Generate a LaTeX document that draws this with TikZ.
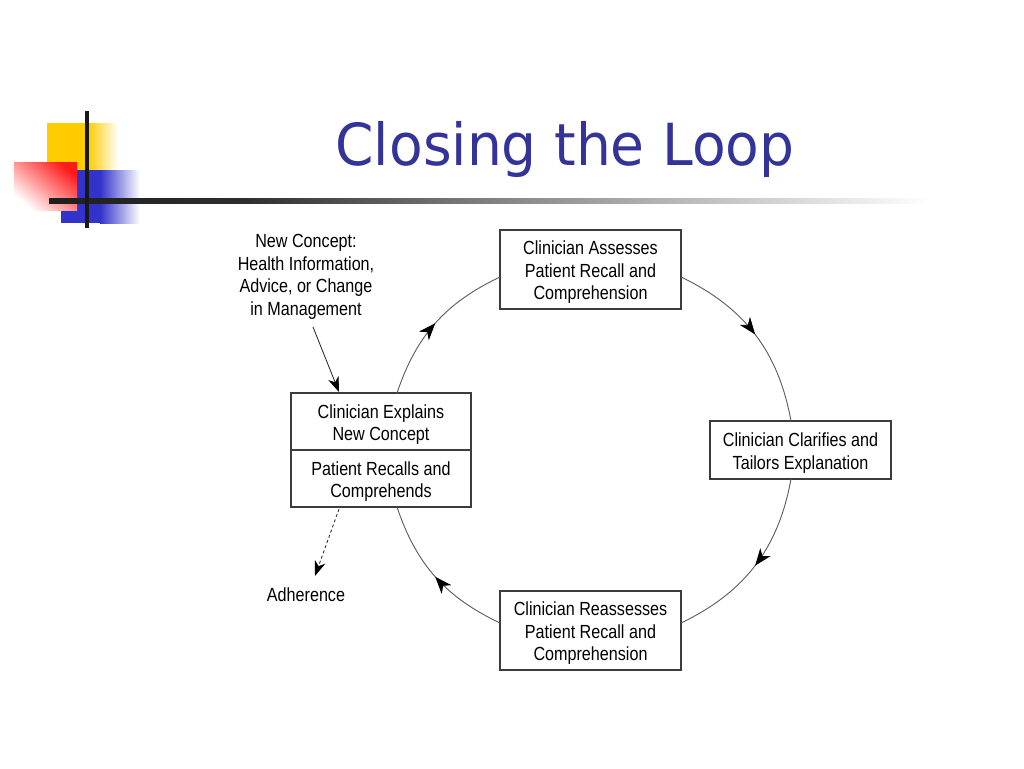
\documentclass[tikz,border=0pt]{standalone}
\usepackage{fontspec}
\setmainfont{Liberation Sans}
\newfontfamily\narrowfont[FakeStretch=0.85]{Liberation Sans}
\newfontfamily\titlefont[FakeStretch=0.95]{DejaVu Sans}
\usetikzlibrary{arrows.meta,decorations.markings,calc}
\definecolor{titleblue}{HTML}{333399}
\definecolor{logoyellow}{HTML}{FFCC00}
\definecolor{logoblue}{HTML}{3333CC}
\definecolor{logored}{HTML}{FF1A1A}
\definecolor{boxgray}{HTML}{3C3C3C}
\definecolor{arcgray}{HTML}{5A5A5A}
\newcommand{\toprl}{\rule{0pt}{19.5pt}}
\pgfdeclarehorizontalshading{lineshade}{100bp}{color(0bp)=(black!88); color(25bp)=(black!88); color(36bp)=(black!82); color(52bp)=(black!45); color(75bp)=(white); color(100bp)=(white)}
\tikzset{
  box/.style={draw=boxgray, line width=1.3pt, minimum width=181pt, align=center, font=\narrowfont\fontsize{19}{22.5}\selectfont, inner sep=2pt},
  lbl/.style={align=center, font=\narrowfont\fontsize{19}{22.5}\selectfont, inner sep=0pt},
  loop/.style={draw=arcgray, line width=0.9pt, postaction={decorate},
    decoration={markings, mark=at position 0.5 with {\arrow[black]{Stealth[length=17pt,width=13pt,inset=5pt]}}}},
  feed/.style={draw=black!80, line width=0.9pt, -{Stealth[length=15pt,width=11pt,inset=4.5pt,black]}},
}
\begin{document}
\begin{tikzpicture}[x=1pt,y=-1pt]
\useasboundingbox (0,0) rectangle (1024,768);
\fill[white] (0,0) rectangle (1024,768);
% logo
\fill[logoyellow] (47,123) rectangle (88,190);
\shade[left color=logoyellow, right color=white] (88,123) rectangle (118,190);
\fill[logoblue] (61,170) rectangle (100,223);
\shade[left color=logoblue, right color=white] (100,170) rectangle (140,223);
\shade[shading=axis, top color=logored, bottom color=white, shading angle=-40] (14,162) rectangle (77,210);
\shade[shading=lineshade] (49,198.5) rectangle (930,203.5);
\fill[black!90] (85,111) rectangle (89,228);
% title
\node[font=\titlefont\fontsize{58}{60}\selectfont, text=titleblue, inner sep=0pt] (title) at (565,149) {Closing the Loop};
% boxes
\node[box, minimum height=79pt] (assess) at (590.5,269.5) {\toprl Clinician Assesses\\Patient Recall and\\Comprehension};
\node[box, minimum height=58pt] (clarify) at (800.5,450) {\toprl Clinician Clarifies and\\Tailors Explanation};
\node[box, minimum height=79pt] (reassess) at (590.5,630.5) {\toprl Clinician Reassesses\\Patient Recall and\\Comprehension};
\node[box, minimum height=57pt, minimum width=180pt] (explain) at (381,421.5) {\toprl Clinician Explains\\New Concept};
\node[box, minimum height=57pt, minimum width=180pt] (recalls) at (381,478.5) {\toprl Patient Recalls and\\Comprehends};
% labels
\node[lbl] (concept) at (306,277) {New Concept:\\Health Information,\\Advice, or Change\\in Management};
\node[lbl] (adherence) at (306,595) {Adherence};
% connection points
\coordinate (pExplainTop) at (397,393);
\coordinate (pAssessW) at (500,277);
\coordinate (pAssessE) at (681,277);
\coordinate (pClarifyN) at (791,421);
\coordinate (pClarifyS) at (791,479);
\coordinate (pReassessE) at (681,623);
\coordinate (pReassessW) at (500,623);
\coordinate (pRecallsBot) at (397,507);
\coordinate (pConceptEnd) at (313,327);
\coordinate (pExplainIn) at (339,392);
\coordinate (pRecallsOut) at (339,509);
\coordinate (pAdhIn) at (315,576);
% loop arcs
\draw[loop] (pExplainTop) to[bend left=23] (pAssessW);
\draw[loop] (pAssessE) to[bend left=27] (pClarifyN);
\draw[loop] (pClarifyS) to[bend left=27] (pReassessE);
\draw[loop] (pReassessW) to[bend left=23] (pRecallsBot);
% feed arrows
\draw[feed] (pConceptEnd) -- (pExplainIn);
\draw[feed, dashed, dash pattern=on 3pt off 2.5pt] (pRecallsOut) -- (pAdhIn);
\end{tikzpicture}
\end{document}
